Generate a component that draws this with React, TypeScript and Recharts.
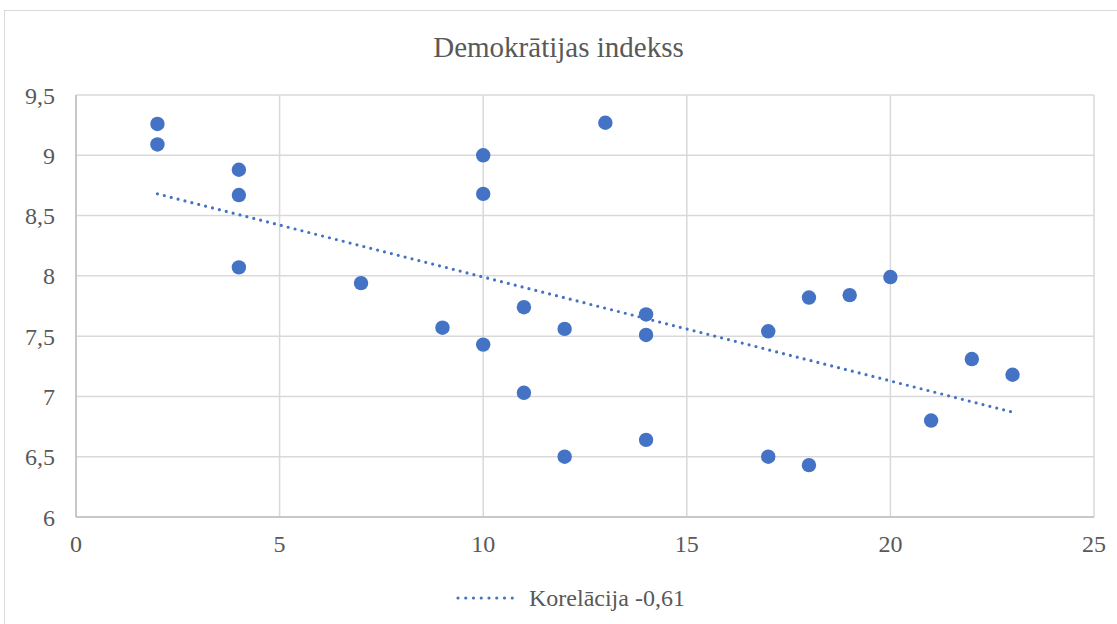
import React from 'react';
import { ScatterChart, Scatter, XAxis, YAxis, CartesianGrid } from 'recharts';

// x: ranks, y: democracy index values
const xValues = [2, 2, 4, 4, 4, 7, 9, 10, 10, 10, 11, 11, 12, 12, 13, 14, 14, 14, 17, 17, 18, 18, 19, 20, 21, 22, 23];
const yValues = [9.26, 9.09, 8.88, 8.67, 8.07, 7.94, 7.57, 9.0, 8.68, 7.43, 7.74, 7.03, 7.56, 6.5, 9.27, 7.68, 7.51, 6.64, 7.54, 6.5, 7.82, 6.43, 7.84, 7.99, 6.8, 7.31, 7.18];

// trend line endpoints
const trendX = [2, 23];
const trendY = [8.68, 6.87];

const xTicks = [0, 5, 10, 15, 20, 25];
const yTicks = [6, 6.5, 7, 7.5, 8, 8.5, 9, 9.5];

const points = xValues.map((x, i) => ({ x, y: yValues[i] }));
const trend = trendX.map((x, i) => ({ x, y: trendY[i] }));

const BLUE = '#4472C4';
const TEXT = '#595959';
const FONT = "'Times New Roman', 'Liberation Serif', serif";

const Dot = (props: any) => <circle cx={props.cx} cy={props.cy} r={7.2} fill={BLUE} />;

export default function App() {
  return (
    <div style={{ position: 'absolute', left: 0, top: 0, width: 1117, height: 624, overflow: 'hidden', background: '#fff', fontFamily: FONT }}>
      <div style={{ position: 'absolute', left: 4, top: 10, width: 1200, height: 700, border: '1px solid #d9d9d9' }} />
      <div style={{ position: 'absolute', left: 0, top: 29, width: 1117, textAlign: 'center', fontSize: 29, color: TEXT, lineHeight: '36px', fontFamily: FONT }}>
        Demokrātijas indekss
      </div>
      <div style={{ position: 'absolute', left: 0, top: 0 }}>
        <ScatterChart width={1117} height={624} margin={{ top: 95, right: 23, left: 0, bottom: 67 }} style={{ fontFamily: FONT }}>
          <CartesianGrid stroke="#d9d9d9" strokeWidth={1.5} />
          <XAxis
            type="number"
            dataKey="x"
            domain={[0, 25]}
            ticks={xTicks}
            height={40}
            tickLine={false}
            tickSize={0}
            tickMargin={18}
            axisLine={{ stroke: '#bfbfbf', strokeWidth: 1.5 }}
            tick={{ fill: TEXT, fontSize: 24, fontFamily: FONT }}
            allowDataOverflow
          />
          <YAxis
            type="number"
            dataKey="y"
            domain={[6, 9.5]}
            ticks={yTicks}
            width={76}
            tickLine={false}
            tickSize={0}
            tickMargin={21}
            axisLine={{ stroke: '#bfbfbf', strokeWidth: 1.5 }}
            tick={{ fill: TEXT, fontSize: 24, fontFamily: FONT }}
            tickFormatter={(v: number) => String(v).replace('.', ',')}
            allowDataOverflow
          />
          <Scatter
            data={trend}
            line={{ stroke: BLUE, strokeWidth: 3.2, strokeDasharray: '0 7.1', strokeLinecap: 'round' }}
            shape={() => <g />}
            isAnimationActive={false}
          />
          <Scatter data={points} fill={BLUE} shape={Dot} isAnimationActive={false} />
        </ScatterChart>
      </div>
      <div style={{ position: 'absolute', left: 456, top: 583, display: 'flex', alignItems: 'center', fontSize: 24, color: TEXT, lineHeight: '30px', fontFamily: FONT }}>
        <svg width={66} height={10} style={{ marginRight: 7 }}>
          <line x1={2} y1={5} x2={64} y2={5} stroke={BLUE} strokeWidth={3.2} strokeDasharray="0 7.75" strokeLinecap="round" />
        </svg>
        Korelācija -0,61
      </div>
    </div>
  );
}
